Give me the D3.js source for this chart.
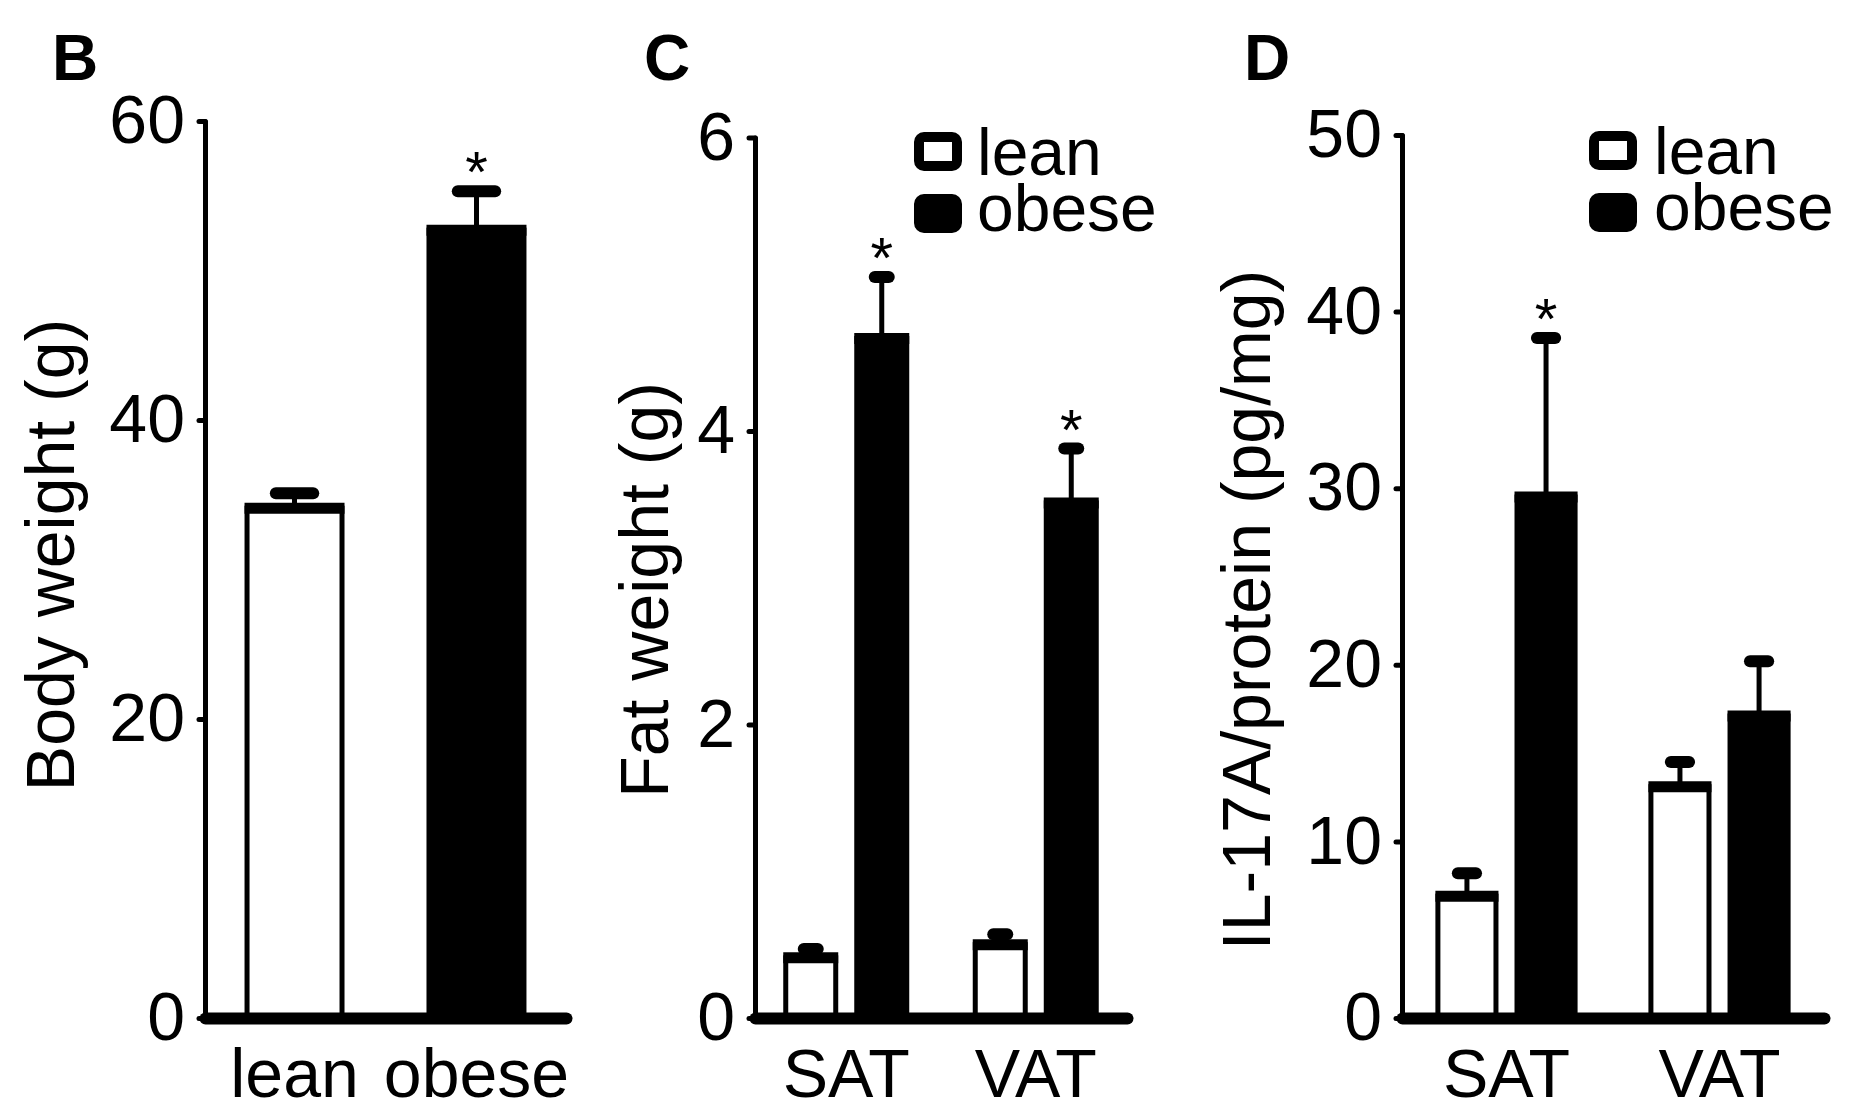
<!DOCTYPE html>
<html lang="en">
<head>
<meta charset="UTF-8">
<title>Body weight, fat weight and IL-17A in lean and obese mice</title>
<script src="https://d3js.org/d3.v7.min.js"></script>
<style>
  body { margin: 0; background: #fff; }
  svg text { font-family: "Liberation Sans", Arial, sans-serif; fill: #000; }
</style>
</head>
<body>
<div id="chart"></div>
<script>
// groups shared by all panels
const groups = ["lean", "obese"];

// Panel B - body weight (g)
const bodyMean = [34.1, 52.7];
const bodySem = [1.0, 2.6];
const bodySig = [false, true];
const bodyTicks = [0, 20, 40, 60];

// Panel C - fat weight (g), per depot
const depots = ["SAT", "VAT"];
const fatLean = [0.41, 0.50];
const fatLeanSem = [0.06, 0.07];
const fatObese = [4.63, 3.51];
const fatObeseSem = [0.42, 0.37];
const fatSig = [true, true];
const fatTicks = [0, 2, 4, 6];

// Panel D - IL-17A/protein (pg/mg), per depot
const ilLean = [6.9, 13.1];
const ilLeanSem = [1.3, 1.4];
const ilObese = [29.5, 17.1];
const ilObeseSem = [9.0, 3.1];
const ilSig = [true, false];
const ilTicks = [0, 10, 20, 30, 40, 50];

const W = 1859, H = 1118;
const baseY = 1018;
const FONT = 68;

const svg = d3.select("#chart").append("svg")
  .attr("width", W)
  .attr("height", H);
svg.append("rect").attr("width", W).attr("height", H).attr("fill", "#fff");

// build bar records for the grouped panels
function depotBars(lean, leanSem, obese, obeseSem, sig) {
  const out = [];
  depots.forEach((c, i) => {
    out.push({ cat: c, sub: "lean", group: "lean", mean: lean[i], sem: leanSem[i], sig: false });
    out.push({ cat: c, sub: "obese", group: "obese", mean: obese[i], sem: obeseSem[i], sig: sig[i] });
  });
  return out;
}

function drawPanel(p) {
  const g = svg.append("g");

  const y = d3.scaleLinear().domain(p.yDomain).range([baseY, p.yTop]);
  const x = d3.scaleBand().domain(p.cats).range([p.x0, p.x1])
    .paddingInner(p.padIn).paddingOuter(p.padOut);
  const sub = d3.scaleBand().domain(p.subs).range([0, x.bandwidth()])
    .paddingInner(p.subIn).paddingOuter(p.subOut);
  const bw = sub.bandwidth();
  const bx = d => x(d.cat) + sub(d.sub);
  const cx = d => bx(d) + bw / 2;
  const capW = bw * 0.52;

  // bars
  g.selectAll("rect.bar").data(p.bars).join("rect")
    .attr("class", "bar")
    .attr("x", d => bx(d))
    .attr("y", d => y(d.mean))
    .attr("width", bw)
    .attr("height", d => baseY - y(d.mean))
    .attr("fill", d => d.group === "lean" ? "#fff" : "#000")
    .attr("stroke", "#000")
    .attr("stroke-width", 5);

  // heavier top edge
  g.selectAll("line.top").data(p.bars).join("line")
    .attr("class", "top")
    .attr("x1", d => bx(d) - 2.5)
    .attr("x2", d => bx(d) + bw + 2.5)
    .attr("y1", d => y(d.mean))
    .attr("y2", d => y(d.mean))
    .attr("stroke", "#000")
    .attr("stroke-width", 11);

  // error bars (upper half only)
  g.selectAll("line.err").data(p.bars).join("line")
    .attr("class", "err")
    .attr("x1", cx).attr("x2", cx)
    .attr("y1", d => y(d.mean))
    .attr("y2", d => y(d.mean + d.sem))
    .attr("stroke", "#000")
    .attr("stroke-width", 5);

  g.selectAll("line.cap").data(p.bars).join("line")
    .attr("class", "cap")
    .attr("x1", d => cx(d) - capW / 2 + 6)
    .attr("x2", d => cx(d) + capW / 2 - 6)
    .attr("y1", d => y(d.mean + d.sem))
    .attr("y2", d => y(d.mean + d.sem))
    .attr("stroke", "#000")
    .attr("stroke-width", 12)
    .attr("stroke-linecap", "round");

  // significance asterisks
  g.selectAll("text.sig").data(p.bars.filter(d => d.sig)).join("text")
    .attr("class", "sig")
    .attr("x", cx)
    .attr("y", d => y(d.mean + d.sem) + 1)
    .attr("text-anchor", "middle")
    .attr("font-size", 58)
    .text("*");

  // y axis
  const yAxis = g.append("g")
    .attr("transform", `translate(${p.x0},0)`)
    .call(d3.axisLeft(y).tickValues(p.ticks).tickFormat(d3.format("d"))
      .tickSize(6).tickSizeOuter(0).tickPadding(14));
  yAxis.select(".domain").attr("stroke-width", 5).attr("stroke-linecap", "round");
  yAxis.selectAll(".tick line").attr("stroke-width", 5).attr("stroke-linecap", "round");
  yAxis.selectAll(".tick text")
    .attr("font-size", FONT)
    .attr("font-family", '"Liberation Sans", Arial, sans-serif');

  // x axis
  const xAxis = g.append("g")
    .attr("transform", `translate(0,${baseY})`)
    .call(d3.axisBottom(x).tickSize(0).tickSizeOuter(0));
  xAxis.select(".domain").attr("stroke-width", 12).attr("stroke-linecap", "round");
  xAxis.selectAll(".tick text")
    .attr("font-size", FONT)
    .attr("font-family", '"Liberation Sans", Arial, sans-serif')
    .attr("y", 79)
    .attr("dy", 0);

  // y axis title
  g.append("text")
    .attr("transform", `translate(${p.labelX},${p.labelY}) rotate(-90)`)
    .attr("text-anchor", "middle")
    .attr("font-size", FONT)
    .text(p.label);

  // panel letter
  g.append("text")
    .attr("x", p.letterX)
    .attr("y", 80)
    .attr("font-size", 64)
    .attr("font-weight", "bold")
    .text(p.letter);

  // legend
  if (p.legendX != null) {
    const leg = g.append("g").attr("transform", `translate(${p.legendX},${p.legendY})`);
    groups.forEach((k, i) => {
      leg.append("rect")
        .attr("x", 5).attr("y", i * 62 + 5)
        .attr("width", 38).attr("height", 29)
        .attr("rx", 5)
        .attr("fill", k === "lean" ? "#fff" : "#000")
        .attr("stroke", "#000")
        .attr("stroke-width", 10);
      leg.append("text")
        .attr("x", p.legendText)
        .attr("y", 43 + i * 56)
        .attr("font-size", 66)
        .text(k);
    });
  }
}

drawPanel({
  letter: "B", letterX: 52,
  label: "Body weight (g)", labelX: 74, labelY: 555,
  cats: groups, subs: ["all"],
  bars: groups.map((k, i) => ({ cat: k, sub: "all", group: k, mean: bodyMean[i], sem: bodySem[i], sig: bodySig[i] })),
  x0: 205, x1: 566, padIn: 0.478, padOut: 0.231, subIn: 0, subOut: 0,
  yDomain: [0, 60], yTop: 121, ticks: bodyTicks
});

drawPanel({
  letter: "C", letterX: 644,
  label: "Fat weight (g)", labelX: 668, labelY: 590,
  cats: depots, subs: groups,
  bars: depotBars(fatLean, fatLeanSem, fatObese, fatObeseSem, fatSig),
  x0: 755, x1: 1127, padIn: 0.2, padOut: 0.0815, subIn: 0.296, subOut: 0.2155,
  yDomain: [0, 6], yTop: 137.5, ticks: fatTicks,
  legendX: 914, legendY: 132, legendText: 63
});

drawPanel({
  letter: "D", letterX: 1244,
  label: "IL-17A/protein (pg/mg)", labelX: 1270, labelY: 610,
  cats: depots, subs: groups,
  bars: depotBars(ilLean, ilLeanSem, ilObese, ilObeseSem, ilSig),
  x0: 1402, x1: 1824, padIn: 0.2, padOut: 0.0905, subIn: 0.266, subOut: 0.21,
  yDomain: [0, 50], yTop: 135, ticks: ilTicks,
  legendX: 1589, legendY: 131, legendText: 65
});
</script>
</body>
</html>
